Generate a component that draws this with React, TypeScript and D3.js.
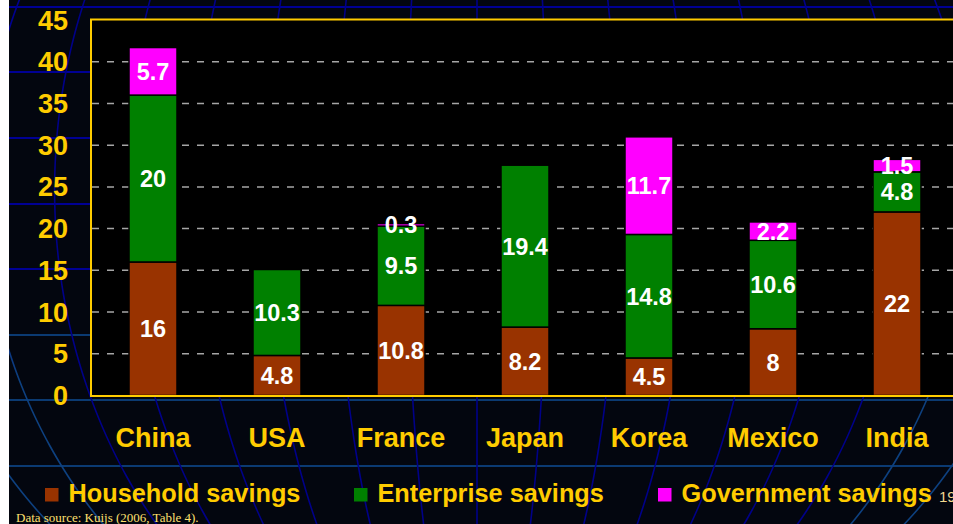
import React from "react";
import * as d3 from "d3";

const categories = ["China", "USA", "France", "Japan", "Korea", "Mexico", "India"];
const household = [16, 4.8, 10.8, 8.2, 4.5, 8, 22];
const enterprise = [20, 10.3, 9.5, 19.4, 14.8, 10.6, 4.8];
const government = [5.7, 0, 0.3, 0, 11.7, 2.2, 1.5];
const seriesNames = ["Household savings", "Enterprise savings", "Government savings"];
const seriesColors = ["#993300", "#008000", "#FF00FF"];
const yTicks = [0, 5, 10, 15, 20, 25, 30, 35, 40, 45];
const gridTicks = [5, 10, 15, 20, 25, 30, 35, 40];

const W = 953;
const H = 524;
const YELLOW = "#FFCC00";

export default function App() {
  const x = d3
    .scaleBand<string>()
    .domain(categories)
    .range([91, 959])
    .paddingInner(0.613)
    .paddingOuter(0.3065);
  const y = d3.scaleLinear().domain([0, 45]).range([395.5, 20]);

  const rows = categories.map((c, i) => ({
    cat: c,
    household: household[i],
    enterprise: enterprise[i],
    government: government[i],
  }));
  const keys = ["household", "enterprise", "government"];
  const stacked = d3.stack<any>().keys(keys)(rows);

  // background globe grid
  const cx = 477;
  const cy = 190;
  const B = 513;
  const meridianLine = d3
    .line<[number, number]>()
    .x((d) => d[0])
    .y((d) => d[1])
    .curve(d3.curveBasis);
  const ys = d3.range(-10, 540, 6);
  const meridians: { i: number; d: string }[] = [];
  for (let i = -8; i <= 8; i++) {
    const A = 70.4 * i;
    const pts: [number, number][] = ys.map((yy) => {
      const t = (yy - cy) / B;
      return [cx + A * Math.sqrt(Math.max(0, 1 - t * t)), yy];
    });
    meridians.push({ i, d: meridianLine(pts) as string });
  }
  const parallels = [7, 72, 138, 204, 269, 335, 400, 466];

  const legendX = [45, 354, 658];

  return (
    <svg
      width={W}
      height={H}
      style={{ position: "absolute", left: 0, top: 0 }}
      fontFamily="'Liberation Sans', Arial, sans-serif"
    >
      <defs>
        <linearGradient id="outerGrad" gradientUnits="userSpaceOnUse" x1="0" y1="180" x2="0" y2="380">
          <stop offset="0" stopColor="#000090" />
          <stop offset="1" stopColor="#0d4080" />
        </linearGradient>
        <clipPath id="bgClip">
          <rect x={9} y={0} width={W - 9} height={H} />
        </clipPath>
      </defs>
      <rect x={0} y={0} width={W} height={H} fill="#ffffff" />
      <rect x={9} y={0} width={W - 9} height={H} fill="#03060f" />
      <g clipPath="url(#bgClip)">
        {parallels.map((py) => (
          <line
            key={py}
            x1={9}
            x2={W}
            y1={py}
            y2={py}
            stroke={py >= 330 ? "#0b3a72" : "#000094"}
            strokeWidth={1.8}
          />
        ))}
        {meridians.map((m) => (
          <path
            key={m.i}
            d={m.d}
            fill="none"
            stroke={Math.abs(m.i) >= 7 ? "url(#outerGrad)" : "#000088"}
            strokeWidth={1.6}
          />
        ))}
      </g>

      {/* plot area */}
      <rect x={91} y={20} width={W} height={376} fill="#000000" />
      {gridTicks.map((t) => (
        <line
          key={t}
          x1={92}
          x2={W}
          y1={y(t)}
          y2={y(t)}
          stroke="#a6a6a6"
          strokeWidth={1.5}
          strokeDasharray="7 8"
        />
      ))}

      {stacked.map((layer, li) => (
        <g key={li}>
          {layer.map((d, ci) => {
            const v = d[1] - d[0];
            if (v <= 0) return null;
            const bx = x(categories[ci]) as number;
            return (
              <rect
                key={ci}
                x={bx}
                y={y(d[1])}
                width={x.bandwidth()}
                height={y(d[0]) - y(d[1])}
                fill={seriesColors[li]}
                stroke="#000"
                strokeWidth={1.5}
              />
            );
          })}
        </g>
      ))}
      {stacked.map((layer, li) => (
        <g key={"l" + li}>
          {layer.map((d, ci) => {
            const v = d[1] - d[0];
            if (v <= 0) return null;
            const bx = (x(categories[ci]) as number) + x.bandwidth() / 2;
            const my = (y(d[0]) + y(d[1])) / 2;
            return (
              <text
                key={ci}
                x={bx}
                y={my + 8.5}
                textAnchor="middle"
                fill="#ffffff"
                fontWeight="bold"
                fontSize={23.5}
              >
                {Math.round(v * 10) / 10}
              </text>
            );
          })}
        </g>
      ))}

      <rect x={91} y={19.5} width={W} height={376.5} fill="none" stroke={YELLOW} strokeWidth={2} />

      {yTicks.map((t) => (
        <text
          key={t}
          x={68}
          y={y(t) + 9.5}
          textAnchor="end"
          fill={YELLOW}
          fontWeight="bold"
          fontSize={27}
        >
          {t}
        </text>
      ))}

      {categories.map((c) => (
        <text
          key={c}
          x={(x(c) as number) + x.bandwidth() / 2}
          y={447}
          textAnchor="middle"
          fill={YELLOW}
          fontWeight="bold"
          fontSize={27}
        >
          {c}
        </text>
      ))}

      {seriesNames.map((s, i) => (
        <g key={s}>
          <rect x={legendX[i]} y={488} width={13.5} height={13.5} fill={seriesColors[i]} />
          <text
            x={legendX[i] + 23.5}
            y={502}
            fill={YELLOW}
            fontWeight="bold"
            fontSize={25.3}
          >
            {s}
          </text>
        </g>
      ))}
      <text x={939} y={502} fill="#f0d890" fontSize={15}>
        19
      </text>

      <text
        x={16}
        y={522}
        fill="#FFE070"
        fontSize={13}
        fontFamily="'Liberation Serif', 'Times New Roman', serif"
      >
        Data source: Kuijs (2006, Table 4).
      </text>
    </svg>
  );
}
